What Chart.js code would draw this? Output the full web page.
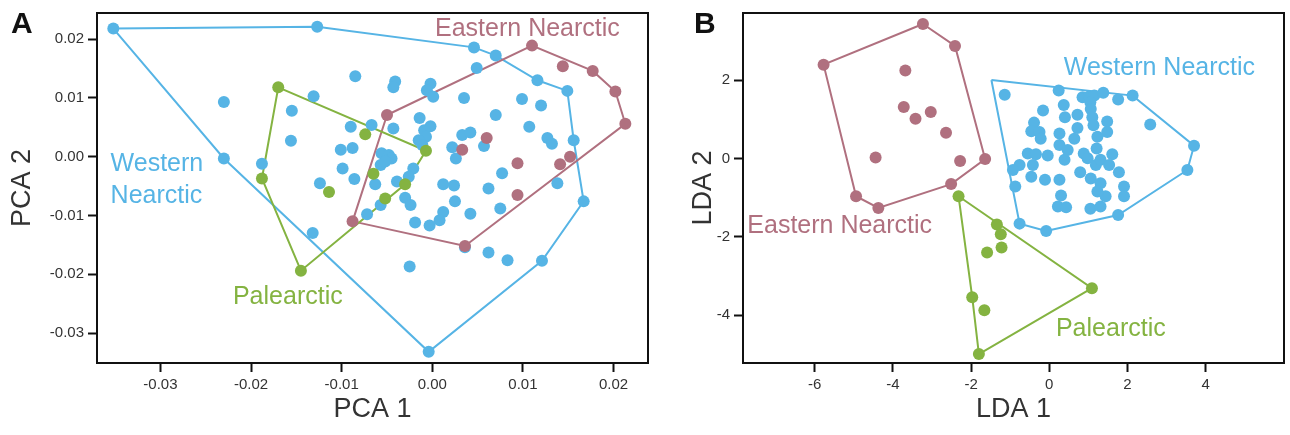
<!DOCTYPE html>
<html>
<head>
<meta charset="utf-8">
<script src="https://cdn.jsdelivr.net/npm/chart.js@4.4.1/dist/chart.umd.min.js"></script>
<style>
  body { margin: 0; background: #fff; }
  .panel { position: absolute; top: 0; }
</style>
</head>
<body>
<div class="panel" style="left:0"><canvas id="chartA" width="660" height="435"></canvas></div>
<div class="panel" style="left:660px"><canvas id="chartB" width="630" height="435"></canvas></div>
<script>
// colours
const BLUE = '#56b4e5';
const MAUVE = '#b0707f';
const GREEN = '#84b341';
const FONT = '"Liberation Sans", Arial, sans-serif';

// ---- Panel A (PCA) ----
// first entries of each group are the hull vertices, in drawing order
const blueA = [
  [-0.0352, 0.0218], [-0.0127, 0.0221], [0.0046, 0.0186], [0.0070, 0.0172], [0.0116, 0.0130],
  [0.0149, 0.0112], [0.0156, 0.0028], [0.0167, -0.0076], [0.0121, -0.0177], [-0.0004, -0.0332],
  [-0.0230, -0.0003],
  [-0.0085, 0.0137], [-0.0131, 0.0103], [-0.0230, 0.0093], [-0.0155, 0.0078], [-0.0090, 0.0051],
  [-0.0156, 0.0027], [-0.0101, 0.0012], [-0.0088, 0.0015], [-0.0188, -0.0012], [-0.0099, -0.0020],
  [-0.0086, -0.0038], [-0.0124, -0.0045], [-0.0132, -0.0130], [-0.0072, -0.0098],
  [0.0049, 0.0151], [-0.0041, 0.0128], [-0.0043, 0.0118], [-0.0002, 0.0124], [-0.0006, 0.0113],
  [0.0001, 0.0102], [0.0035, 0.0100], [0.0099, 0.0098], [0.0120, 0.0087], [-0.0014, 0.0066],
  [0.0070, 0.0071], [-0.0002, 0.0052], [-0.0009, 0.0045], [-0.0007, 0.0034], [-0.0015, 0.0028],
  [-0.0011, 0.0020], [-0.0043, 0.0048], [-0.0067, 0.0054], [0.0107, 0.0051], [0.0127, 0.0032],
  [0.0132, 0.0022], [0.0033, 0.0037], [0.0042, 0.0041], [0.0057, 0.0018], [0.0022, 0.0016],
  [0.0026, -0.0003], [-0.0056, 0.0006], [-0.0048, 0.0003], [-0.0045, -0.0003], [-0.0057, -0.0014],
  [-0.0052, -0.0008], [-0.0021, -0.0020], [-0.0026, -0.0034], [-0.0039, -0.0042], [-0.0063, -0.0047],
  [0.0077, -0.0028], [0.0012, -0.0047], [0.0024, -0.0049], [0.0062, -0.0054], [0.0138, -0.0045],
  [-0.0030, -0.0070], [-0.0024, -0.0082], [-0.0057, -0.0082], [0.0025, -0.0076], [0.0012, -0.0094],
  [0.0008, -0.0108], [-0.0003, -0.0117], [-0.0019, -0.0112], [0.0042, -0.0097], [0.0075, -0.0088],
  [0.0062, -0.0163], [0.0083, -0.0176], [-0.0025, -0.0187], [0.0036, -0.0154]
];
const blueAHull = [0, 1, 2, 3, 4, 5, 6, 7, 8, 9, 10];

const mauveA = [
  [-0.0050, 0.0071], [0.0110, 0.0189], [0.0177, 0.0146], [0.0202, 0.0111], [0.0213, 0.0056],
  [0.0036, -0.0152], [-0.0088, -0.0110],
  [0.0144, 0.0154], [0.0060, 0.0032], [0.0033, 0.0012], [0.0094, -0.0011], [0.0141, -0.0013],
  [0.0152, 0.0000], [0.0094, -0.0065]
];
const mauveAHull = [0, 1, 2, 3, 4, 5, 6];

const greenA = [
  [-0.0170, 0.0118], [-0.0007, 0.0010], [-0.0030, -0.0047], [-0.0145, -0.0194], [-0.0188, -0.0037],
  [-0.0074, 0.0038], [-0.0065, -0.0029], [-0.0114, -0.0060], [-0.0052, -0.0071]
];
const greenAHull = [0, 1, 2, 3, 4];

const xTicksA = [-0.03, -0.02, -0.01, 0, 0.01, 0.02];
const yTicksA = [-0.03, -0.02, -0.01, 0, 0.01, 0.02];

const textA = [
  { text: 'Western', x: -0.0355, y: -0.0025, color: BLUE },
  { text: 'Nearctic', x: -0.0355, y: -0.0078, color: BLUE },
  { text: 'Eastern Nearctic', x: 0.0003, y: 0.0206, color: MAUVE },
  { text: 'Palearctic', x: -0.0220, y: -0.0251, color: GREEN }
];

// ---- Panel B (LDA) ----
const blueB = [
  [2.13, 1.61], [3.70, 0.33], [3.53, -0.29], [1.76, -1.44], [-0.08, -1.85], [-0.76, -1.66],
  [-1.14, 1.63], [0.24, 1.74], [0.85, 1.57], [1.02, 1.59], [1.15, 1.61], [1.38, 1.68], [1.76, 1.51],
  [2.58, 0.87], [-0.16, 1.23], [0.37, 1.37], [0.40, 1.06], [0.72, 1.12], [1.05, 1.44], [1.06, 1.27],
  [1.10, 1.06], [1.48, 0.95], [-0.39, 0.92], [-0.46, 0.70], [-0.25, 0.68], [-0.22, 0.51], [0.26, 0.64],
  [0.26, 0.35], [0.72, 0.78], [0.64, 0.51], [1.13, 0.85], [1.23, 0.56], [1.48, 0.68], [-0.55, 0.13],
  [-0.34, 0.11], [-0.04, 0.08], [0.47, 0.22], [1.21, 0.26], [0.88, 0.13], [0.98, 0.01], [1.61, 0.11],
  [-0.76, -0.16], [-0.93, -0.29], [-0.42, -0.16], [0.39, -0.03], [1.19, -0.16], [1.31, -0.03],
  [1.53, -0.16], [-0.46, -0.46], [-0.11, -0.54], [0.26, -0.54], [0.79, -0.35], [1.06, -0.51],
  [1.31, -0.63], [1.78, -0.35], [-0.87, -0.71], [0.30, -0.94], [1.44, -0.96], [1.91, -0.71],
  [1.91, -0.96], [1.23, -0.84], [0.22, -1.22], [0.43, -1.24], [1.05, -1.28], [1.31, -1.22]
];
// the top-left corner of this hull has no visible point
const blueBHull = [[-1.48, 2.01], 0, 1, 2, 3, 4, 5];

const mauveB = [
  [-3.23, 3.44], [-2.41, 2.88], [-1.64, -0.01], [-2.51, -0.65], [-4.37, -1.26], [-4.94, -0.96],
  [-5.77, 2.40],
  [-3.68, 2.25], [-3.72, 1.32], [-3.42, 1.02], [-3.03, 1.19], [-2.64, 0.66], [-4.44, 0.03], [-2.28, -0.06]
];
const mauveBHull = [0, 1, 2, 3, 4, 5, 6];

const greenB = [
  [-2.32, -0.96], [1.09, -3.31], [-1.80, -4.99], [-1.97, -3.54],
  [-1.34, -1.68], [-1.24, -1.93], [-1.22, -2.27], [-1.59, -2.40], [-1.66, -3.87]
];
const greenBHull = [0, 1, 2, 3];

const xTicksB = [-6, -4, -2, 0, 2, 4];
const yTicksB = [-4, -2, 0, 2];

const textB = [
  { text: 'Western Nearctic', x: 0.37, y: 2.13, color: BLUE },
  { text: 'Eastern Nearctic', x: -7.72, y: -1.91, color: MAUVE },
  { text: 'Palearctic', x: 0.17, y: -4.53, color: GREEN }
];

function toXY(arr) {
  return arr.map(p => ({ x: p[0], y: p[1] }));
}

function hullPath(pts, hull) {
  const path = hull.map(h => Array.isArray(h) ? h : pts[h]);
  path.push(path[0]);
  return toXY(path);
}

function hullSet(pts, hull, color) {
  return {
    data: hullPath(pts, hull),
    showLine: true,
    borderColor: color,
    borderWidth: 2,
    pointRadius: 0,
    fill: false,
    order: 5
  };
}

function pointSet(pts, color, order) {
  return {
    data: toXY(pts),
    backgroundColor: color,
    borderWidth: 0,
    pointRadius: 6,
    order: order
  };
}

// frame, panel letter and group names
const decorPlugin = {
  id: 'decor',
  afterDatasetsDraw(chart, args, opts) {
    const ctx = chart.ctx;
    const a = chart.chartArea;
    const xs = chart.scales.x, ys = chart.scales.y;
    ctx.save();
    ctx.textBaseline = 'alphabetic';
    ctx.textAlign = 'left';
    ctx.font = '25px ' + FONT;
    opts.texts.forEach(t => {
      ctx.fillStyle = t.color;
      ctx.fillText(t.text, xs.getPixelForValue(t.x), ys.getPixelForValue(t.y));
    });
    ctx.strokeStyle = '#111';
    ctx.lineWidth = 2;
    ctx.strokeRect(a.left, a.top, a.right - a.left, a.bottom - a.top);
    ctx.fillStyle = '#111';
    ctx.font = 'bold 30px ' + FONT;
    ctx.fillText(opts.letter, opts.letterX, 33);
    ctx.restore();
  }
};

function makeScale(min, max, ticks, title, fmt, size, titlePad) {
  return {
    type: 'linear',
    min: min,
    max: max,
    afterBuildTicks: s => { s.ticks = ticks.map(v => ({ value: v })); },
    afterFit: s => { if (s.isHorizontal()) s.height = size; else s.width = size; },
    border: { display: false },
    grid: { drawOnChartArea: false, drawTicks: true, tickLength: 9, tickWidth: 2, tickColor: '#111' },
    ticks: { color: '#333', font: { family: FONT, size: 15 }, padding: 4, callback: fmt },
    title: { display: true, text: title, color: '#333', font: { family: FONT, size: 27 }, padding: titlePad }
  };
}

function makeChart(id, datasets, scales, padding, decor) {
  return new Chart(document.getElementById(id), {
    type: 'scatter',
    data: { datasets: datasets },
    options: {
      responsive: false,
      animation: false,
      layout: { padding: padding },
      plugins: { legend: { display: false }, tooltip: { enabled: false }, decor: decor },
      scales: scales
    },
    plugins: [decorPlugin]
  });
}

Chart.defaults.font.family = FONT;

makeChart('chartA', [
  pointSet(greenA, GREEN, 0),
  pointSet(mauveA, MAUVE, 1),
  pointSet(blueA, BLUE, 2),
  hullSet(greenA, greenAHull, GREEN),
  hullSet(mauveA, mauveAHull, MAUVE),
  hullSet(blueA, blueAHull, BLUE)
], {
  x: makeScale(-0.0370, 0.0238, xTicksA, 'PCA 1', v => v.toFixed(2), 72, { top: 2, bottom: 9 }),
  y: makeScale(-0.0351, 0.02445, yTicksA, 'PCA 2', v => v.toFixed(2), 97, { top: 6, bottom: 0 })
}, { left: 0, right: 12, top: 10, bottom: 0 },
{ texts: textA, letter: 'A', letterX: 11 });

makeChart('chartB', [
  pointSet(greenB, GREEN, 0),
  pointSet(mauveB, MAUVE, 1),
  pointSet(blueB, BLUE, 2),
  hullSet(greenB, greenBHull, GREEN),
  hullSet(mauveB, mauveBHull, MAUVE),
  hullSet(blueB, blueBHull, BLUE)
], {
  x: makeScale(-7.83, 6.0, xTicksB, 'LDA 1', v => String(v), 72, { top: 2, bottom: 9 }),
  y: makeScale(-5.22, 3.72, yTicksB, 'LDA 2', v => String(v), 83, { top: 27, bottom: 0 })
}, { left: 0, right: 2, top: 10, bottom: 0 },
{ texts: textB, letter: 'B', letterX: 34 });
</script>
</body>
</html>
